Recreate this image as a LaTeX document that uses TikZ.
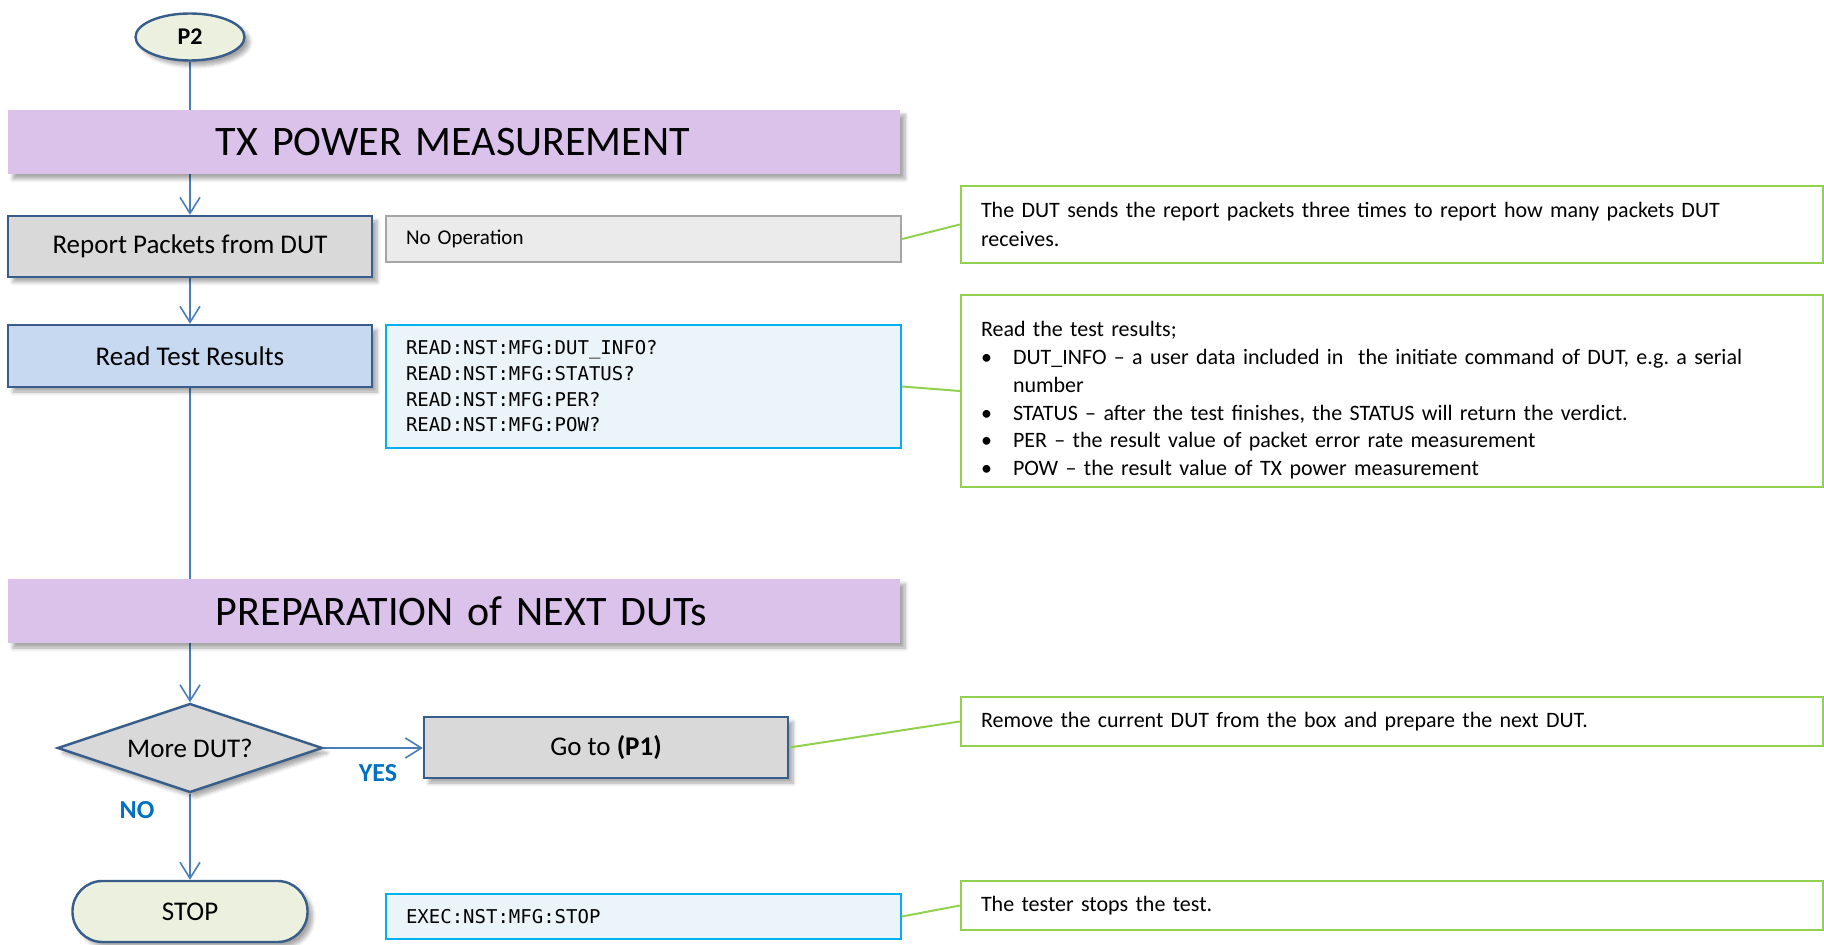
\documentclass[tikz,border=0pt]{standalone}
\usepackage{fontspec}
\setmainfont{Carlito}
\newfontfamily\cmdfamily{DejaVu Sans Mono}
\usetikzlibrary{shapes.geometric,arrows.meta,shadows.blur}
\definecolor{bannerfill}{RGB}{219,194,235}
\definecolor{boxline}{RGB}{56,93,138}
\definecolor{boxgray}{RGB}{217,217,217}
\definecolor{boxblue}{RGB}{198,217,241}
\definecolor{termfill}{RGB}{235,241,222}
\definecolor{connblue}{RGB}{74,126,187}
\definecolor{cmdline}{RGB}{0,176,240}
\definecolor{cmdfill}{RGB}{235,244,248}
\definecolor{noopfill}{RGB}{235,235,235}
\definecolor{noopline}{RGB}{166,166,166}
\definecolor{notegreen}{RGB}{146,208,80}
\definecolor{labblue}{RGB}{0,112,192}
\pgfdeclarelayer{bg}
\pgfsetlayers{bg,main}
\frenchspacing
\begin{document}
\begin{tikzpicture}[x=0.5pt,y=-0.5pt,
  shade/.style={blur shadow={shadow xshift=2.5pt,shadow yshift=-2.5pt,shadow blur steps=6,shadow opacity=35}},
  flowbox/.style={draw=boxline,line width=1.2pt,minimum width=182pt,minimum height=30.5pt,inner sep=0pt,
    font=\fontsize{13.5pt}{16pt}\selectfont,shade},
  p2term/.style={ellipse,draw=boxline,line width=1.2pt,fill=termfill,minimum width=54.5pt,minimum height=23.5pt,
    inner sep=0pt,font=\fontsize{12pt}{14pt}\selectfont\bfseries,shade},
  stopterm/.style={rectangle,rounded corners=15pt,draw=boxline,line width=1.2pt,fill=termfill,minimum width=117.5pt,
    minimum height=30.5pt,inner sep=0pt,font=\fontsize{13.5pt}{16pt}\selectfont,shade},
  decision/.style={diamond,draw=boxline,line width=1.2pt,fill=boxgray,minimum width=132.5pt,minimum height=44.5pt,
    inner sep=0pt,font=\fontsize{13.5pt}{16pt}\selectfont,shade},
  banner/.style={fill=bannerfill,minimum height=32pt,text width=446pt,inner xsep=0pt,align=left,
    font=\fontsize{21pt}{24pt}\selectfont,shade},
  cmdbox/.style={draw=cmdline,fill=cmdfill,line width=1pt,text width=237.5pt,inner xsep=10pt,inner ysep=0pt,align=left,
    font=\cmdfamily\fontsize{9.5pt}{12.85pt}\selectfont},
  noopbox/.style={draw=noopline,fill=noopfill,line width=1.2pt,text width=237.5pt,inner xsep=10pt,inner ysep=0pt,align=left,
    font=\fontsize{10.5pt}{13pt}\selectfont},
  note/.style={draw=notegreen,line width=1.2pt,fill=white,text width=411pt,inner xsep=10pt,inner ysep=0pt,align=left,
    font=\fontsize{11pt}{14.25pt}\selectfont},
  conn/.style={draw=connblue,line width=1pt,-{Straight Barb[length=8pt,width=10pt,line width=0.8pt]}},
  link/.style={draw=notegreen,line width=1pt},
  lab/.style={text=labblue,font=\fontsize{13pt}{15pt}\selectfont\bfseries,inner sep=0pt}
]
\useasboundingbox (0,0) rectangle (1824,945);

% flow nodes
\node[p2term] (p2) at (190,37) {P2};
\node[flowbox,fill=boxgray] (rep) at (190,246.5) {Report Packets from DUT};
\node[flowbox,fill=boxblue,minimum height=31pt] (read) at (190,356) {Read Test Results};
\node[decision] (more) at (190,748) {\makebox[0pt]{More DUT?}};
\node[flowbox,fill=boxgray] (goto) at (606,747.5) {Go to \textbf{(P1)}};
\node[stopterm] (stop) at (190,911.5) {STOP};

% banners
\node[banner] (b1) at (454,142) {\hspace*{104pt}TX POWER MEASUREMENT};
\node[banner] (b2) at (454,611) {\hspace*{104pt}PREPARATION of NEXT DUTs};

% command boxes
\node[noopbox,minimum height=23pt] (noop) at (643.5,239) {No Operation};
\node[cmdbox,minimum height=61.5pt] (rcmd) at (643.5,386.5)
  {READ:NST:MFG:DUT\_INFO?\\READ:NST:MFG:STATUS?\\READ:NST:MFG:PER?\\READ:NST:MFG:POW?};
\node[cmdbox,minimum height=22.5pt] (ecmd) at (643.5,916.5) {EXEC:NST:MFG:STOP};

% notes
\node[note,minimum height=38.5pt] (n1) at (1392,224.5)
  {The DUT sends the report packets three times to report how many packets DUT\\receives.};
\node[note,minimum height=96pt,font=\fontsize{11pt}{13.9pt}\selectfont] (n2) at (1392,391)
  {\rule{0pt}{17pt}Read the test results;\\
   \makebox[16pt][l]{\textbullet}DUT\_INFO – a user data included in\ \ the initiate command of DUT, e.g. a serial\\
   \hspace*{16pt}number\\
   \makebox[16pt][l]{\textbullet}STATUS – after the test finishes, the STATUS will return the verdict.\\
   \makebox[16pt][l]{\textbullet}PER – the result value of packet error rate measurement\\
   \makebox[16pt][l]{\textbullet}POW – the result value of TX power measurement};
\node[note,minimum height=24.5pt] (n3) at (1392,721.5) {Remove the current DUT from the box and prepare the next DUT.};
\node[note,minimum height=24.5pt] (n4) at (1392,905.5) {The tester stops the test.};

% labels
\node[lab] (yes) at (378,773) {YES};
\node[lab] (no) at (137,810) {NO};

% connectors
\begin{pgfonlayer}{bg}
\draw[conn] (p2) -- (rep);
\draw[conn] (rep) -- (read);
\draw[conn] (read) -- (more);
\draw[conn] (more.east) -- (goto.west |- more.east);
\draw[conn] (more) -- (stop);
\end{pgfonlayer}
\draw[link] (noop.east) -- (n1.west);
\draw[link] (rcmd.east) -- (n2.west);
\draw[link] (goto.east) -- (n3.west);
\draw[link] (ecmd.east) -- (n4.west);
\end{tikzpicture}
\end{document}
